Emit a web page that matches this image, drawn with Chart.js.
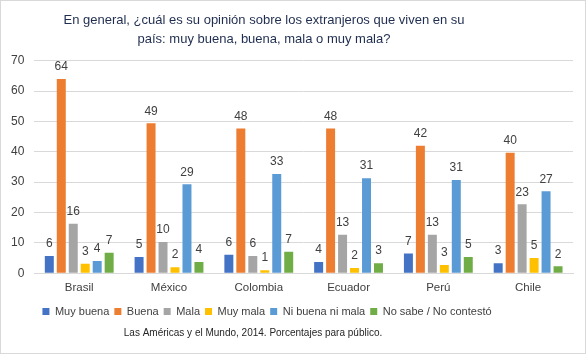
<!DOCTYPE html>
<html>
<head>
<meta charset="utf-8">
<script src="https://cdn.jsdelivr.net/npm/chart.js@4"></script>
<style>
  body { margin: 0; background: #fff; }
  #wrap { width: 584px; height: 352px; border: 1px solid #d9d9d9; }
</style>
</head>
<body>
<div id="wrap"><canvas id="myChart"></canvas></div>
<script>
// paises y respuestas
const paises = ['Brasil', 'México', 'Colombia', 'Ecuador', 'Perú', 'Chile'];
const muyBuena = [5.7, 5.3, 6.1, 3.7, 6.5, 3.3];
const buena = [64, 49.4, 47.7, 47.7, 42, 39.7];
const mala = [16.3, 10.3, 5.7, 12.7, 12.7, 22.7];
const muyMala = [3.1, 2.0, 1.0, 1.7, 2.7, 5.0];
const niBuenaNiMala = [4.0, 29.3, 32.7, 31.3, 30.7, 27];
const noSabe = [6.7, 3.7, 7.1, 3.3, 5.3, 2.3];
const yTicks = [0, 10, 20, 30, 40, 50, 60, 70];

Chart.defaults.font.family = "'Liberation Sans', Arial, sans-serif";
Chart.defaults.color = '#404040';

// etiquetas encima de cada barra
const barLabels = {
    id: 'barLabels',
    afterDatasetsDraw(chart) {
        const c = chart.ctx;
        c.save();
        c.font = "12px 'Liberation Sans', Arial, sans-serif";
        c.fillStyle = '#404040';
        c.textAlign = 'center';
        c.textBaseline = 'bottom';
        chart.data.datasets.forEach((ds, i) => {
            chart.getDatasetMeta(i).data.forEach((bar, j) => {
                c.fillText(Math.round(ds.data[j]), bar.x, bar.y - 6);
            });
        });
        c.restore();
    }
};

// en el original el titulo, la leyenda y la nota no estan centrados
const shiftBoxes = {
    id: 'shiftBoxes',
    afterLayout(chart) {
        chart.boxes.forEach(box => {
            if (box.axis) return;
            let s = 0;
            if (box === chart.titleBlock) s = 23;
            else if (box === chart.legend) s = 20;
            else s = 34;
            box.left -= s;
            box.right -= s;
        });
    }
};

const ctx = document.getElementById('myChart').getContext('2d');
const myChart = new Chart(ctx, {
    type: 'bar',
    plugins: [barLabels, shiftBoxes],
    data: {
        labels: paises,
        datasets: [
            { label: 'Muy buena', data: muyBuena, backgroundColor: '#4472c4' },
            { label: 'Buena', data: buena, backgroundColor: '#ed7d31' },
            { label: 'Mala', data: mala, backgroundColor: '#a5a5a5' },
            { label: 'Muy mala', data: muyMala, backgroundColor: '#ffc000' },
            { label: 'Ni buena ni mala', data: niBuenaNiMala, backgroundColor: '#5b9bd5' },
            { label: 'No sabe / No contestó', data: noSabe, backgroundColor: '#70ad47' }
        ]
    },
    options: {
        responsive: true,
        maintainAspectRatio: false,
        animation: false,
        datasets: {
            bar: { categoryPercentage: 0.8, barPercentage: 0.75 }
        },
        layout: { padding: { left: 0, right: 12, top: 4, bottom: 0 } },
        scales: {
            x: {
                grid: { display: false, drawTicks: false },
                border: { color: '#d9d9d9' },
                ticks: { color: '#404040', font: { size: 11.5 }, padding: 8 },
                afterFit: (axis) => { axis.height -= 2; }
            },
            y: {
                min: 0,
                max: 70,
                afterBuildTicks: (axis) => { axis.ticks = yTicks.map(v => ({ value: v })); },
                grid: { color: '#d9d9d9', drawTicks: false },
                border: { display: false },
                ticks: { color: '#404040', font: { size: 12 }, padding: 10 }
            }
        },
        plugins: {
            title: {
                display: true,
                text: ['En general, ¿cuál es su opinión sobre los extranjeros que viven en su',
                       'país: muy buena, buena, mala o muy mala?'],
                color: '#1f2d4f',
                font: { size: 13, weight: 'normal', lineHeight: 1.45 },
                padding: { top: 6, bottom: 12 }
            },
            legend: {
                position: 'bottom',
                labels: {
                    boxWidth: 7,
                    boxHeight: 7,
                    padding: 5,
                    color: '#404040',
                    font: { size: 11 }
                }
            },
            subtitle: {
                display: true,
                position: 'bottom',
                text: 'Las Américas y el Mundo, 2014. Porcentajes para público.',
                color: '#262626',
                font: { size: 10 },
                padding: { top: 0, bottom: 14 }
            },
            tooltip: { enabled: false }
        }
    }
});
</script>
</body>
</html>
